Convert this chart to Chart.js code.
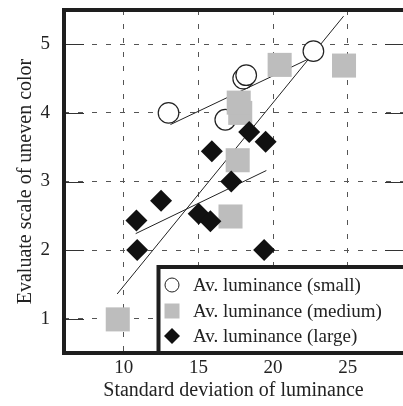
<!DOCTYPE html>
<html>
<head>
<meta charset="utf-8">
<script src="https://cdn.jsdelivr.net/npm/chart.js@4"></script>
<style>
  html, body { margin: 0; padding: 0; background: #fff; overflow: hidden; }
</style>
</head>
<body>
<canvas id="chart" width="403" height="406"></canvas>
<script>
// axis ticks
const xTicks = [10, 15, 20, 25];
const yTicks = [1, 2, 3, 4, 5];

// Av. luminance (small) - open circles
const smallX = [13.0, 16.8, 18.0, 18.2, 22.7];
const smallY = [4.0, 3.9, 4.5, 4.55, 4.9];

// Av. luminance (medium) - grey squares
const mediumX = [9.6, 17.15, 17.63, 17.8, 17.7, 20.44, 24.75];
const mediumY = [0.99, 2.49, 3.31, 4.0, 4.15, 4.7, 4.69];

// Av. luminance (large) - black diamonds
const largeX = [10.85, 10.9, 12.5, 15.02, 15.8, 15.9, 17.2, 18.4, 19.5, 19.4];
const largeY = [2.43, 2.0, 2.72, 2.53, 2.42, 3.44, 3.0, 3.72, 3.58, 2.0];

// fitted lines (end points)
const smallFitX = [13.13, 22.7];
const smallFitY = [3.83, 4.82];
const mediumFitX = [9.56, 24.72];
const mediumFitY = [1.36, 5.41];
const largeFitX = [10.8, 19.55];
const largeFitY = [2.24, 3.16];

const seriesLabels = ['Av. luminance (small)', 'Av. luminance (medium)', 'Av. luminance (large)'];

const serif = '"Liberation Serif"';

function toPoints(xs, ys) {
    return xs.map((x, i) => ({ x: x, y: ys[i] }));
}

function fitLine(xs, ys) {
    return {
        data: toPoints(xs, ys),
        showLine: true,
        borderColor: '#222',
        borderWidth: 1,
        pointRadius: 0,
        order: 5
    };
}

// frame, inner ticks and the boxed legend
const framePlugin = {
    id: 'framePlugin',
    afterDraw(chart) {
        const ctx = chart.ctx;
        const a = chart.chartArea;
        const w = chart.width;
        const yScale = chart.scales.y;
        ctx.save();

        // solid inward ticks on the y axis
        ctx.strokeStyle = '#333';
        ctx.lineWidth = 1;
        yTicks.forEach(v => {
            const py = Math.round(yScale.getPixelForValue(v)) + 0.5;
            ctx.beginPath();
            ctx.moveTo(a.left, py);
            ctx.lineTo(a.left + 20, py);
            ctx.moveTo(w - 18, py);
            ctx.lineTo(w, py);
            ctx.stroke();
        });

        // legend box
        const lx = 158.5, ly = 267;
        ctx.fillStyle = '#fff';
        ctx.fillRect(lx, ly, w - lx, a.bottom - ly);
        ctx.strokeStyle = '#1e1e1e';
        ctx.lineWidth = 4;
        ctx.beginPath();
        ctx.moveTo(w, ly);
        ctx.lineTo(lx, ly);
        ctx.lineTo(lx, a.bottom);
        ctx.stroke();

        // frame (right side is cut off)
        ctx.beginPath();
        ctx.moveTo(w, a.top);
        ctx.lineTo(a.left, a.top);
        ctx.lineTo(a.left, a.bottom);
        ctx.lineTo(w, a.bottom);
        ctx.stroke();

        // legend entries
        const rowY = [285, 311, 336];
        const mx = 172;
        ctx.font = '19px ' + serif;
        ctx.textBaseline = 'middle';
        ctx.textAlign = 'left';
        rowY.forEach((y, i) => {
            ctx.beginPath();
            if (i === 0) {
                ctx.arc(mx, y, 7, 0, Math.PI * 2);
                ctx.fillStyle = '#fff';
                ctx.fill();
                ctx.lineWidth = 1;
                ctx.strokeStyle = '#222';
                ctx.stroke();
            } else if (i === 1) {
                ctx.fillStyle = '#bdbdbd';
                ctx.fillRect(mx - 7.5, y - 7.5, 15, 15);
            } else {
                ctx.moveTo(mx - 8, y);
                ctx.lineTo(mx, y - 8);
                ctx.lineTo(mx + 8, y);
                ctx.lineTo(mx, y + 8);
                ctx.closePath();
                ctx.fillStyle = '#111';
                ctx.fill();
            }
            ctx.fillStyle = '#222';
            ctx.fillText(seriesLabels[i], 193, y + 1);
        });
        ctx.restore();
    }
};

function noPad(scale) {
    scale.paddingTop = 0;
    scale.paddingBottom = 0;
    scale.paddingLeft = 0;
    scale.paddingRight = 0;
}

function drawChart() {
    const ctx = document.getElementById('chart');
    new Chart(ctx, {
        type: 'scatter',
        data: {
            datasets: [
                {
                    label: seriesLabels[2],
                    data: toPoints(largeX, largeY),
                    pointStyle: 'rectRot',
                    pointRadius: 11,
                    pointBackgroundColor: '#111',
                    pointBorderColor: '#111',
                    pointBorderWidth: 0,
                    order: 0
                },
                {
                    label: seriesLabels[1],
                    data: toPoints(mediumX, mediumY),
                    pointStyle: 'rect',
                    pointRadius: 17,
                    pointBackgroundColor: '#bdbdbd',
                    pointBorderColor: '#bdbdbd',
                    pointBorderWidth: 0,
                    order: 1
                },
                {
                    label: seriesLabels[0],
                    data: toPoints(smallX, smallY),
                    pointStyle: 'circle',
                    pointRadius: 10.3,
                    pointBackgroundColor: '#fff',
                    pointBorderColor: '#222',
                    pointBorderWidth: 1.2,
                    order: 2
                },
                fitLine(smallFitX, smallFitY),
                fitLine(mediumFitX, mediumFitY),
                fitLine(largeFitX, largeFitY)
            ]
        },
        options: {
            responsive: false,
            animation: false,
            layout: { autoPadding: false, padding: { top: 10, left: 0, right: 0, bottom: 0 } },
            plugins: {
                legend: { display: false },
                tooltip: { enabled: false }
            },
            scales: {
                x: {
                    type: 'linear',
                    min: 6,
                    max: 28.7,
                    afterBuildTicks: scale => { scale.ticks = xTicks.map(v => ({ value: v })); },
                    afterFit: scale => { scale.height = 53; noPad(scale); },
                    grid: { color: '#555', lineWidth: 1, drawTicks: false },
                    border: { display: false, dash: [5, 9] },
                    ticks: {
                        padding: 4,
                        color: '#222',
                        font: { family: serif, size: 19 }
                    },
                    title: {
                        display: true,
                        text: 'Standard deviation of luminance',
                        color: '#222',
                        padding: { top: 0, bottom: 3 },
                        font: { family: serif, size: 20 }
                    }
                },
                y: {
                    type: 'linear',
                    min: 0.5,
                    max: 5.5,
                    afterBuildTicks: scale => { scale.ticks = yTicks.map(v => ({ value: v })); },
                    afterFit: scale => { scale.width = 64; noPad(scale); },
                    grid: { color: '#555', lineWidth: 1, drawTicks: false },
                    border: { display: false, dash: [5, 9] },
                    ticks: {
                        padding: 14,
                        color: '#222',
                        font: { family: serif, size: 19, lineHeight: 0.4 }
                    },
                    title: {
                        display: true,
                        text: 'Evaluate scale of uneven color',
                        color: '#222',
                        padding: { top: 14, bottom: 0 },
                        font: { family: serif, size: 20 }
                    }
                }
            }
        },
        plugins: [framePlugin]
    });
}

document.fonts.load('19px "Liberation Serif"').then(drawChart, drawChart);
</script>
</body>
</html>
